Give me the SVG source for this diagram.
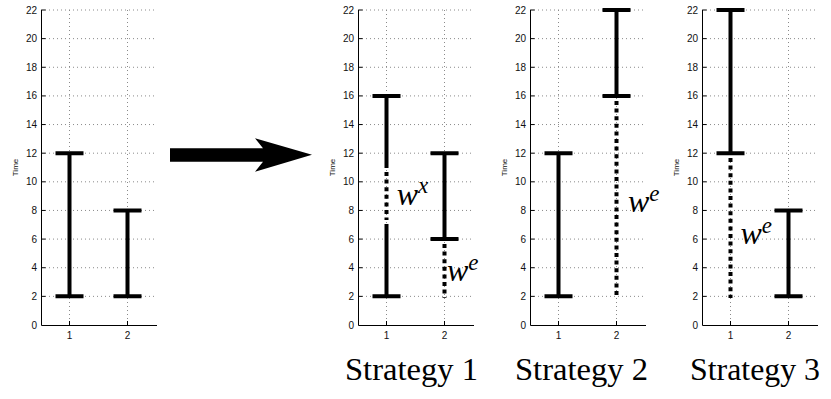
<svg xmlns="http://www.w3.org/2000/svg" xmlns:xlink="http://www.w3.org/1999/xlink" width="831" height="399" viewBox="0 0 831 399">
<style>
.grid{stroke:#8a8a8a;stroke-width:1;stroke-dasharray:1 3;fill:none}
.ax{stroke:#000;stroke-width:1;fill:none}
.tk{font-family:"Liberation Sans",Arial,sans-serif;font-size:10px;fill:#111}
.yl{text-anchor:end}
.xl{text-anchor:middle}
.tl{font-family:"Liberation Sans",Arial,sans-serif;font-size:8px;fill:#111;text-anchor:middle}
.bar{stroke:#000;stroke-width:4;fill:none}
.dot{stroke:#000;stroke-width:4;fill:none;stroke-dasharray:4 3.6}
.w{font-family:"Liberation Serif","Times New Roman",serif;font-style:italic;font-size:32px;fill:#000}
.sup{font-size:23px}
.st{font-family:"Liberation Serif","Times New Roman",serif;font-size:32px;fill:#000}
</style>
<defs>
<g id="axes">
<g class="grid">
<path d="M0 296.36H116M0 267.73H116M0 239.09H116M0 210.45H116M0 181.82H116M0 153.18H116M0 124.55H116M0 95.91H116M0 67.27H116M0 38.64H116M0 10H116"/>
<path d="M28.5 10V325M86.5 10V325"/>
</g>
<path class="ax" d="M0.5 10V325.5H116"/>
<path class="ax" d="M0.5 296.36h4M0.5 267.73h4M0.5 239.09h4M0.5 210.45h4M0.5 181.82h4M0.5 153.18h4M0.5 124.55h4M0.5 95.91h4M0.5 67.27h4M0.5 38.64h4M0.5 10h4M28.5 325v-4M86.5 325v-4"/>
<g class="tk yl">
<text x="-4" y="328.5">0</text>
<text x="-4" y="299.9">2</text>
<text x="-4" y="271.2">4</text>
<text x="-4" y="242.6">6</text>
<text x="-4" y="214">8</text>
<text x="-4" y="185.3">10</text>
<text x="-4" y="156.7">12</text>
<text x="-4" y="128.1">14</text>
<text x="-4" y="99.4">16</text>
<text x="-4" y="70.8">18</text>
<text x="-4" y="42.1">20</text>
<text x="-4" y="13.5">22</text>
</g>
<g class="tk xl">
<text x="28.5" y="339">1</text>
<text x="86.5" y="339">2</text>
</g>
<text class="tl" transform="translate(-23.5,167.5) rotate(-90)">Time</text>
</g>
</defs>

<g id="plot-original" transform="translate(41,0)">
<use href="#axes"/>
<path class="bar" d="M28.5 153.18V296.36M14.5 153.18H42.5M14.5 296.36H42.5"/>
<path class="bar" d="M86.5 210.45V296.36M72.5 210.45H100.5M72.5 296.36H100.5"/>
</g>

<g id="plot-strategy1" transform="translate(358,0)">
<use href="#axes"/>
<path class="bar" d="M28.5 95.91V168M28.5 224V296.36M14.5 95.91H42.5M14.5 296.36H42.5"/>
<path class="dot" d="M28.5 172V220"/>
<path class="bar" d="M86.5 153.18V239.09M72.5 153.18H100.5M72.5 239.09H100.5"/>
<path class="dot" d="M86.5 244V298"/>
<text class="w" x="38.7" y="205">w<tspan class="sup" dy="-12">x</tspan></text>
<text class="w" x="89" y="281">w<tspan class="sup" dy="-11">e</tspan></text>
<text class="st" x="-13" y="380" textLength="133" lengthAdjust="spacingAndGlyphs">Strategy 1</text>
</g>

<g id="plot-strategy2" transform="translate(530,0)">
<use href="#axes"/>
<path class="bar" d="M28.5 153.18V296.36M14.5 153.18H42.5M14.5 296.36H42.5"/>
<path class="bar" d="M86.5 10V95.91M72.5 10H100.5M72.5 95.91H100.5"/>
<path class="dot" d="M86.5 101V298"/>
<text class="w" x="98" y="212">w<tspan class="sup" dy="-11">e</tspan></text>
<text class="st" x="-15" y="380" textLength="133" lengthAdjust="spacingAndGlyphs">Strategy 2</text>
</g>

<g id="plot-strategy3" transform="translate(702,0)">
<use href="#axes"/>
<path class="bar" d="M28.5 10V153.18M14.5 10H42.5M14.5 153.18H42.5"/>
<path class="dot" d="M28.5 158V298"/>
<path class="bar" d="M86.5 210.45V296.36M72.5 210.45H100.5M72.5 296.36H100.5"/>
<text class="w" x="38.5" y="244">w<tspan class="sup" dy="-11">e</tspan></text>
<text class="st" x="-12" y="380" textLength="130" lengthAdjust="spacingAndGlyphs">Strategy 3</text>
</g>

<g id="connectors">
<polygon points="170,148.3 263,148.3 255,138.3 312,154.8 255,171.7 263,161.7 170,161.7" fill="#000"/>
</g>
</svg>
